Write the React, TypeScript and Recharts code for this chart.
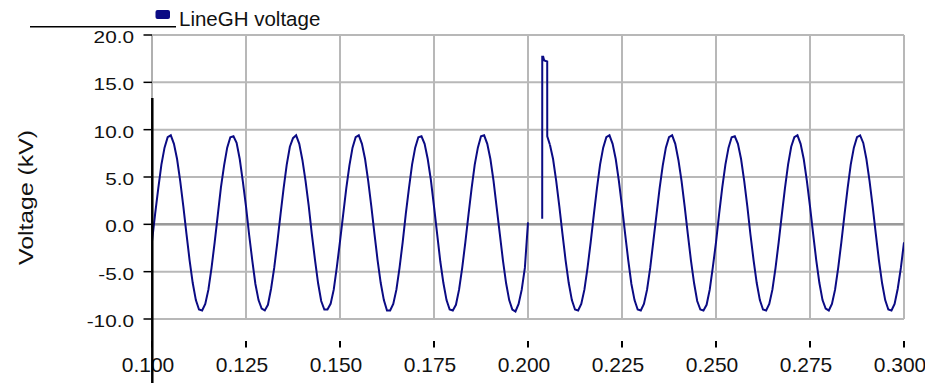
import { LineChart, Line, XAxis, YAxis, CartesianGrid, ReferenceLine } from "recharts";

// sampled at 1200 Hz starting at t = 0.1 s, one row per 60 Hz cycle
const SAMPLE_START = 0.1;
const SAMPLE_STEP = 1 / 1200;

const voltage: (number | null)[] = [
  -1.8, 1.1, 3.8, 6.3, 8.1, 9.2, 9.4, 8.5, 6.9, 4.6, 1.9, -1.0, -3.8, -6.2, -8.0, -9.0, -9.1, -8.4, -6.9, -4.6,
  -1.9, 1.0, 3.9, 6.2, 8.1, 9.2, 9.3, 8.6, 6.9, 4.5, 1.9, -1.1, -3.8, -6.3, -8.0, -8.9, -9.1, -8.5, -6.8, -4.6,
  -1.9, 1.0, 3.8, 6.3, 8.2, 9.1, 9.4, 8.5, 6.8, 4.6, 2.0, -1.0, -3.7, -6.2, -8.1, -9.0, -9.0, -8.4, -6.9, -4.5,
  -1.8, 1.0, 3.8, 6.2, 8.1, 9.2, 9.4, 8.5, 6.9, 4.6, 1.9, -1.0, -3.8, -6.2, -8.0, -9.1, -9.1, -8.4, -6.9, -4.6,
  -1.9, 1.1, 3.8, 6.3, 8.1, 9.2, 9.3, 8.5, 6.9, 4.7, 1.9, -1.0, -3.9, -6.2, -8.0, -9.0, -9.1, -8.5, -6.9, -4.6,
  -1.9, 1.0, 3.8, 6.3, 8.1, 9.3, 9.4, 8.5, 6.9, 4.6, 1.8, -1.0, -3.8, -6.2, -8.0, -9.0, -9.2, -8.4, -6.9, -4.6,
  0.2, null, null, null, null, null, null, 8.4, 6.9, 4.6, 1.9, -1.0, -3.8, -6.2, -8.0, -9.0, -9.1, -8.4, -6.9, -4.6,
  -1.9, 1.0, 3.8, 6.3, 8.1, 9.2, 9.4, 8.5, 6.9, 4.6, 1.9, -1.0, -3.8, -6.3, -8.0, -9.0, -9.1, -8.4, -6.9, -4.6,
  -1.8, 1.0, 3.8, 6.2, 8.1, 9.2, 9.4, 8.5, 6.8, 4.6, 1.9, -1.0, -3.8, -6.2, -8.1, -9.0, -9.1, -8.5, -6.9, -4.5,
  -1.9, 1.1, 3.9, 6.3, 8.1, 9.2, 9.3, 8.5, 6.9, 4.6, 1.9, -1.1, -3.8, -6.2, -8.0, -9.0, -9.1, -8.4, -6.9, -4.6,
  -1.9, 1.0, 3.8, 6.3, 8.2, 9.2, 9.4, 8.5, 6.9, 4.6, 1.9, -1.0, -3.8, -6.2, -8.0, -8.9, -9.1, -8.4, -6.9, -4.6,
  -1.9, 1.0, 3.8, 6.3, 8.1, 9.2, 9.4, 8.6, 6.9, 4.6, 1.9, -1.0, -3.8, -6.2, -8.0, -9.0, -9.1, -8.4, -6.8, -4.6,
  -1.9,
];

// switching transient near t = 0.204 s
const spikeTime = [0.20378, 0.20379, 0.20405, 0.20418, 0.20432, 0.20511, 0.20512, 0.20583];
const spikeVolts = [0.6, 17.7, 17.7, 17.5, 17.3, 17.2, 9.3, 8.4];

const xTicks = [0.1, 0.125, 0.15, 0.175, 0.2, 0.225, 0.25, 0.275, 0.3];
const yTicks = [-10, -5, 0, 5, 10, 15, 20];

const mainData = voltage.map((v, i) => ({ t: SAMPLE_START + i * SAMPLE_STEP, v }));
const spikeData = spikeTime.map((t, i) => ({ t, v: spikeVolts[i] }));

const FONT = '"Liberation Sans", Arial, sans-serif';
const NAVY = "#0b0b84";

function XTick(props: any) {
  const { x, y, payload } = props;
  return (
    <g>
      <line x1={x} x2={x} y1={y + 22} y2={y + 28.5} stroke="#000" strokeWidth={2} />
      <text x={x - 4} y={y + 52.5} textAnchor="middle" fontSize={21} fontFamily={FONT} fill="#111">
        {payload.value.toFixed(3)}
      </text>
    </g>
  );
}

function YTick(props: any) {
  const { x, y, payload } = props;
  return (
    <g>
      <line x1={x - 8.5} x2={x} y1={y} y2={y} stroke="#000" strokeWidth={1.5} />
      <text
        transform={`translate(${x - 18}, ${y + 8}) scale(1.2, 1)`}
        textAnchor="end"
        fontSize={17.3}
        fontFamily={FONT}
        fill="#111"
      >
        {payload.value.toFixed(1)}
      </text>
    </g>
  );
}

export default function App() {
  return (
    <div style={{ position: "relative", width: 917, height: 375 }}>
      <LineChart width={917} height={375} margin={{ top: 27, right: 21, left: 0, bottom: 0 }}>
        <CartesianGrid stroke="#b8b8b8" strokeWidth={2} />
        <XAxis
          dataKey="t"
          type="number"
          domain={[0.1, 0.3]}
          ticks={xTicks}
          allowDataOverflow
          height={64}
          axisLine={false}
          tickLine={false}
          tickSize={0}
          tickMargin={0}
          tick={<XTick />}
          interval={0}
        />
        <YAxis
          type="number"
          domain={[-10, 20]}
          ticks={yTicks}
          allowDataOverflow
          width={144}
          axisLine={{ stroke: "#b0b0b0", strokeWidth: 2 }}
          tickLine={false}
          tickSize={0}
          tickMargin={0}
          tick={<YTick />}
          interval={0}
        />
        <ReferenceLine y={0} stroke="#9a9a9a" strokeWidth={2.5} />
        <Line
          data={mainData}
          dataKey="v"
          type="linear"
          stroke={NAVY}
          strokeWidth={2}
          dot={false}
          connectNulls={false}
          isAnimationActive={false}
        />
        <Line
          data={spikeData}
          dataKey="v"
          type="linear"
          stroke={NAVY}
          strokeWidth={2}
          dot={false}
          legendType="none"
          isAnimationActive={false}
        />
      </LineChart>
      <svg
        width={917}
        height={375}
        style={{ position: "absolute", left: 0, top: 0, pointerEvents: "none", overflow: "visible" }}
      >
        <line x1={22} x2={168} y1={18.7} y2={18.7} stroke="#000" strokeWidth={1.5} />
        <line x1={144.3} x2={144.3} y1={90} y2={375} stroke="#000" strokeWidth={2.5} />
        <rect x={147.5} y={2} width={14.5} height={9} rx={2} fill={NAVY} />
        <text x={171} y={17.5} fontSize={20.5} fontFamily={FONT} fill="#111">
          LineGH voltage
        </text>
        <text
          transform="translate(25, 189.5) rotate(-90)"
          textAnchor="middle"
          fontSize={20}
          fontFamily={FONT}
          fill="#111"
          textLength={135}
          lengthAdjust="spacingAndGlyphs"
        >
          Voltage  (kV)
        </text>
      </svg>
    </div>
  );
}
